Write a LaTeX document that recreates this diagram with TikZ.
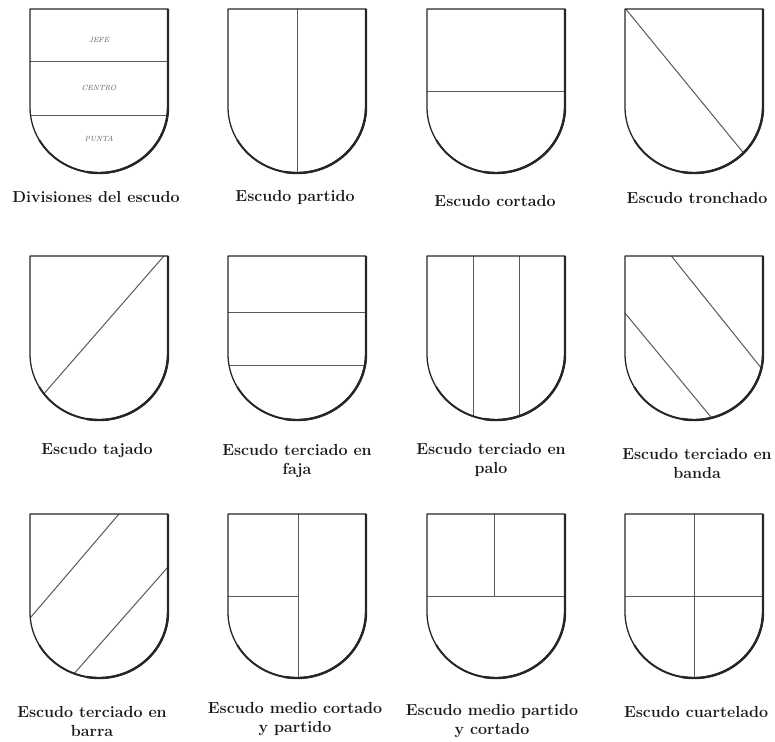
\documentclass[tikz,border=0pt]{standalone}
\usepackage{tikz}
\usetikzlibrary{positioning}

% contorno del escudo (ancho 138, alto 164)
\newcommand{\contorno}{(0,0) -- (138,0) -- (138,98) arc[start angle=0, end angle=180, x radius=69, y radius=66] -- cycle}
\newcommand{\escudo}[3]{%
  \begin{scope}[shift={(#1,#2)}]
    \begin{scope}
      \clip \contorno;
      #3
    \end{scope}
    \draw[borde] \contorno;
    \draw[sombra] (138,0) -- (138,98) arc[start angle=0, end angle=100, x radius=69, y radius=66];
    \draw[sombra, line width=1.9pt] (138,98) arc[start angle=0, end angle=150, x radius=69, y radius=66];
  \end{scope}}

\begin{document}
\begin{tikzpicture}[
      x=1pt, y=-1pt,
      borde/.style={draw=black!85, line width=1.3pt, line join=round},
      sombra/.style={draw=black!85, line width=2.4pt},
      division/.style={draw=black!65, line width=1pt},
      zona/.style={font=\fontsize{7.5}{9}\selectfont\itshape, text=black!65},
      rotulo/.style={align=center, font=\fontsize{16}{19}\selectfont\bfseries, text=black!90}
    ]
    \useasboundingbox (0,0) rectangle (775,741);

    % primera fila
    \escudo{30}{9}{%
      \draw[division] (-5,53) -- (145,53);
      \draw[division] (-5,106) -- (145,106);
      \node[zona] (jefe) at (69,31) {JEFE};
      \node[zona] (centro) at (69,79) {CENTRO};
      \node[zona] (punta) at (69,130) {PUNTA};}
    \escudo{228}{9}{\draw[division] (69,-5) -- (69,170);}
    \escudo{427}{9}{\draw[division] (-5,83) -- (145,83);}
    \escudo{625}{9}{\draw[division] (-5,-7) -- (130,158);}

    % segunda fila
    \escudo{30}{256}{\draw[division] (140,-7) -- (5,148);}
    \escudo{228}{256}{%
      \draw[division] (-5,56) -- (145,56);
      \draw[division] (-5,109) -- (145,109);}
    \escudo{427}{256}{%
      \draw[division] (46,-5) -- (46,170);
      \draw[division] (92,-5) -- (92,170);}
    \escudo{625}{256}{%
      \draw[division] (40,-8) -- (145,123);
      \draw[division] (-5,51) -- (95,172);}

    % tercera fila
    \escudo{30}{514}{%
      \draw[division] (95,-7) -- (-5,110);
      \draw[division] (145,45) -- (35,170);}
    \escudo{228}{514}{%
      \draw[division] (70,-5) -- (70,170);
      \draw[division] (-5,82) -- (70,82);}
    \escudo{427}{514}{%
      \draw[division] (67,-5) -- (67,82);
      \draw[division] (-5,82) -- (145,82);}
    \escudo{625}{514}{%
      \draw[division] (69,-5) -- (69,170);
      \draw[division] (-5,82) -- (145,82);}

    \node[rotulo] (r1) at (96,197) {Divisiones del escudo};
    \node[rotulo] (r2) at (295,197) {Escudo partido};
    \node[rotulo] (r3) at (495,201) {Escudo cortado};
    \node[rotulo] (r4) at (697,198) {Escudo tronchado};

    \node[rotulo] (r5) at (97,451) {Escudo tajado};
    \node[rotulo] (r6) at (297,461) {Escudo terciado en\\faja};
    \node[rotulo] (r7) at (491,460) {Escudo terciado en\\palo};
    \node[rotulo] (r8) at (697,463) {Escudo terciado en\\banda};

    \node[rotulo] (r9) at (92,721) {Escudo terciado en\\barra};
    \node[rotulo] (r10) at (295,719) {Escudo medio cortado\\y partido};
    \node[rotulo] (r11) at (492,721) {Escudo medio partido\\y cortado};
    \node[rotulo] (r12) at (696,712) {Escudo cuartelado};
  \end{tikzpicture}
\end{document}
